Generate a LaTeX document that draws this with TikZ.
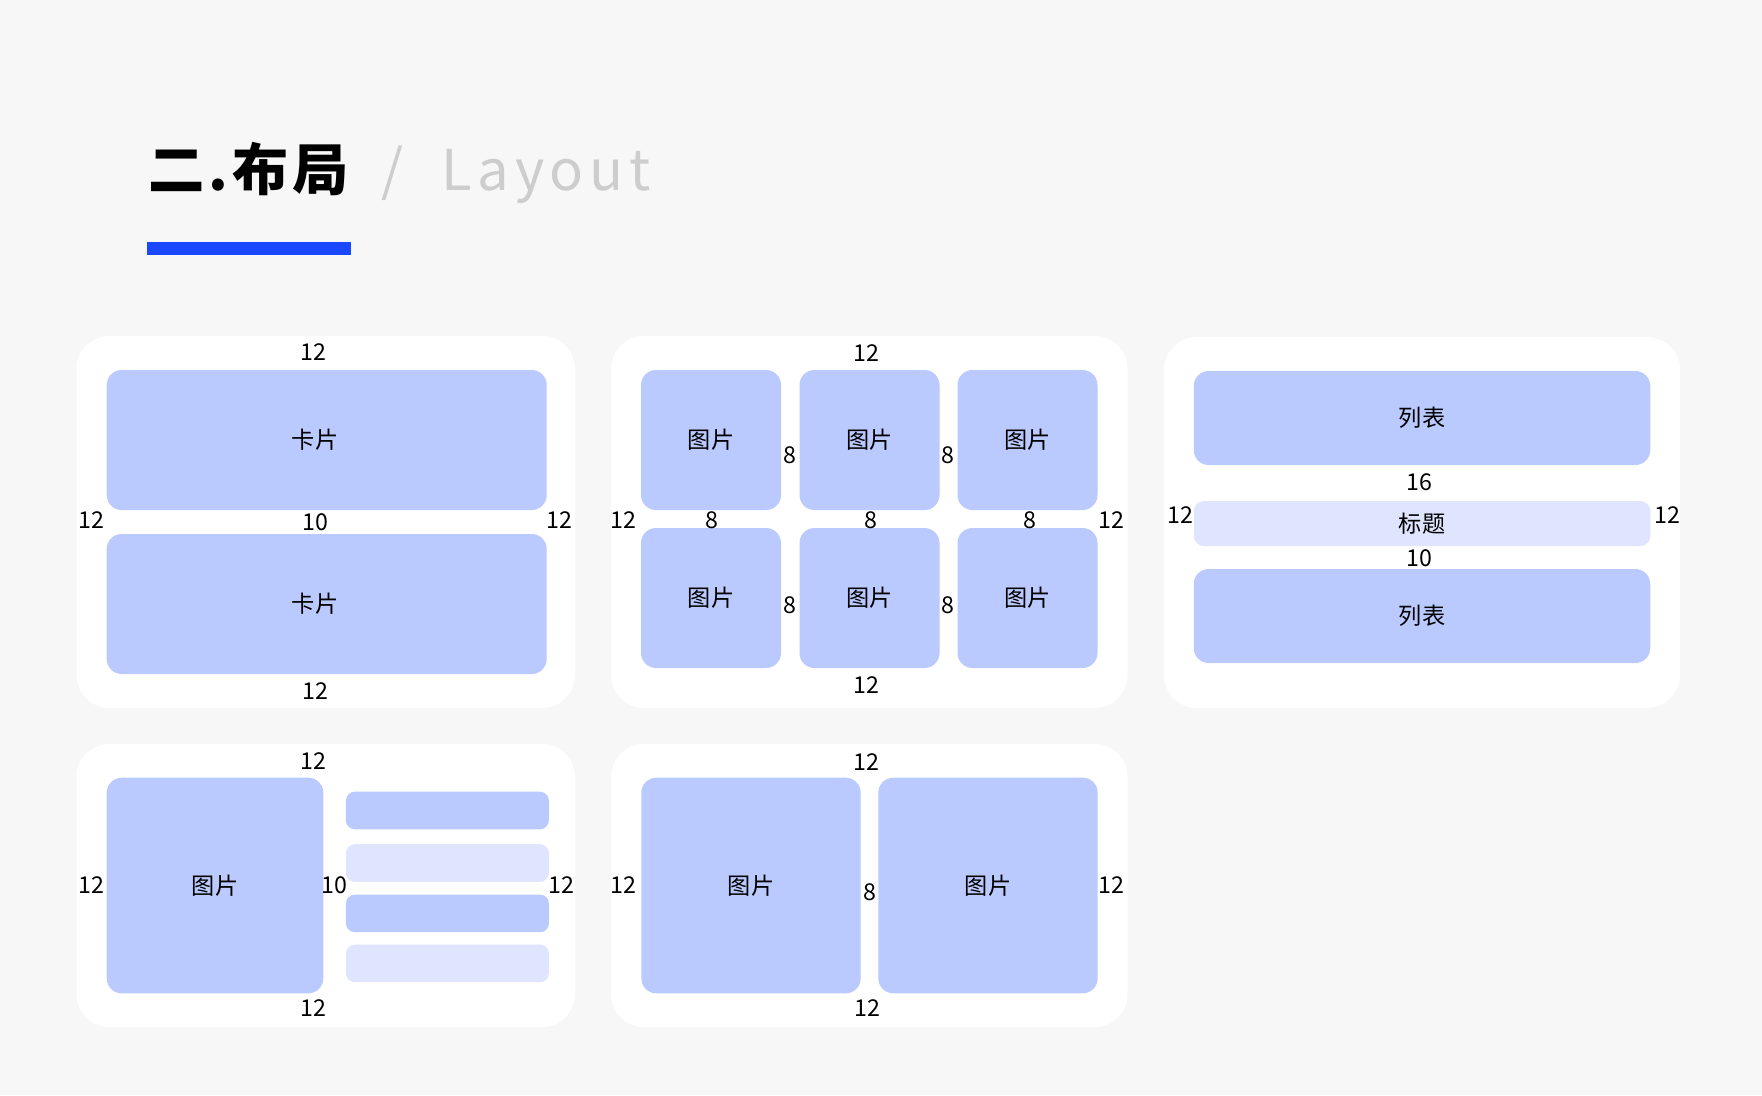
\documentclass[tikz,border=0pt]{standalone}
\usepackage{fontspec}
\setmainfont{Noto Sans CJK SC}
\newfontfamily\cjk{Noto Sans CJK SC}
\usepackage{xcolor}
\usetikzlibrary{positioning}

\definecolor{pagebg}{HTML}{F7F7F7}
\definecolor{tileblue}{HTML}{BAC9FE}
\definecolor{tilelight}{HTML}{DFE5FE}
\definecolor{barblue}{HTML}{1A48FF}
\definecolor{titlegray}{HTML}{CDCDCD}
\newcommand{\gapfont}{\cjk\fontsize{6.6}{7}\selectfont}
\newcommand{\headfont}{\cjk\fontsize{16}{18}\selectfont}

\begin{document}
\begin{tikzpicture}[
    x=0.1mm, y=-0.1mm,
    panel/.style={rectangle, fill=white, rounded corners=3.3mm, inner sep=0pt},
    tile/.style={rectangle, fill=tileblue, rounded corners=1.5mm, inner sep=0pt, font=\gapfont},
    lighttile/.style={tile, fill=tilelight},
    bar/.style={tile, rounded corners=0.9mm, minimum width=20.3mm, minimum height=3.76mm},
    gap/.style={font=\gapfont, inner sep=0pt}
]
\fill[pagebg] (0,0) rectangle (1762,1095);

% heading
\node[anchor=base west, inner sep=0pt, font=\headfont\bfseries] (zh) at (148,190)
    {\addfontfeatures{LetterSpace=7}二.布局};
\node[anchor=base west, inner sep=0pt, font=\headfont, titlegray] (slash) at (381,190) {/};
\node[anchor=base west, inner sep=0pt, font=\headfont, titlegray] (en) at (441,190)
    {\addfontfeatures{LetterSpace=10}Layout};
\node[rectangle, fill=barblue, inner sep=0pt, minimum width=20.4mm, minimum height=1.25mm] (uline) at (249,248.5) {};

% white panels
\node[panel, minimum width=49.85mm, minimum height=37.2mm] (pa) at (325.75,522) {};
\node[panel, minimum width=51.65mm, minimum height=37.2mm] (pb) at (869.25,522) {};
\node[panel, minimum width=51.6mm,  minimum height=37.1mm] (pc) at (1422,522.5) {};
\node[panel, minimum width=49.85mm, minimum height=28.3mm] (pd) at (325.75,885.5) {};
\node[panel, minimum width=51.65mm, minimum height=28.3mm] (pe) at (869.25,885.5) {};

% panel a: two cards
\node[tile, minimum width=44mm, minimum height=14mm,
      label={[gap, xshift=-1.17mm]center:卡片}] (card1) at (326.7,440) {};
\node[tile, minimum width=44mm, minimum height=14mm,
      label={[gap, xshift=-1.17mm]center:卡片}] (card2) at (326.7,604) {};
\node[gap] (a12t) at (313,352) {12};
\node[gap] (a12l) at (91,520) {12};
\node[gap] (a12r) at (559,520) {12};
\node[gap] (a10)  at (315,522) {10};
\node[gap] (a12b) at (315,691) {12};

% panel b: grid of six pictures
\foreach \cx [count=\i] in {711,869.5,1027.5} {
    \node[tile, minimum width=14mm, minimum height=14mm] (pic1\i) at (\cx,440) {图片};
    \node[tile, minimum width=14mm, minimum height=14mm] (pic2\i) at (\cx,598) {图片};
}
\node[gap] (b12t) at (866,353) {12};
\node[gap] (b12l) at (623,520) {12};
\node[gap] (b12r) at (1111,520) {12};
\node[gap] (b12b) at (866,685) {12};
\foreach \gx [count=\i] in {789.7,947.8} {
    \node[gap] (bv1\i) at (\gx,455) {8};
    \node[gap] (bv2\i) at (\gx,605) {8};
}
\foreach \gx [count=\i] in {712,870.7,1029.8}
    \node[gap] (bh\i) at (\gx,520) {8};

% panel c: lists with a title
\node[tile, minimum width=45.65mm, minimum height=9.4mm] (list1) at (1422,418) {列表};
\node[lighttile, rounded corners=1mm, minimum width=45.65mm, minimum height=4.5mm] (ctitle) at (1422,523.5) {标题};
\node[tile, minimum width=45.65mm, minimum height=9.4mm] (list2) at (1422,616) {列表};
\node[gap] (c16)  at (1419,482) {16};
\node[gap] (c10)  at (1419,558) {10};
\node[gap] (c12l) at (1180,515) {12};
\node[gap] (c12r) at (1667,515) {12};

% panel d: picture with text rows
\node[tile, minimum width=21.66mm, minimum height=21.56mm] (dpic) at (215,885.5) {图片};
\node[bar] (row1) at (447.4,810.5) {};
\node[bar, fill=tilelight] (row2) at (447.4,863) {};
\node[bar] (row3) at (447.4,913.4) {};
\node[bar, fill=tilelight] (row4) at (447.4,963.4) {};
\node[gap] (d12t) at (313,761) {12};
\node[gap] (d12l) at (91,885) {12};
\node[gap] (d10)  at (334.5,885) {10};
\node[gap] (d12r) at (561,885) {12};
\node[gap] (d12b) at (313,1008) {12};

% panel e: two pictures
\node[tile, minimum width=21.94mm, minimum height=21.56mm] (epic1) at (751,885.5) {图片};
\node[tile, minimum width=21.94mm, minimum height=21.56mm] (epic2) at (988,885.5) {图片};
\node[gap] (e12t) at (866,762) {12};
\node[gap] (e12l) at (623,885) {12};
\node[gap] (e8)   at (870.3,892) {8};
\node[gap] (e12r) at (1111,885) {12};
\node[gap] (e12b) at (867,1008) {12};
\end{tikzpicture}
\end{document}
